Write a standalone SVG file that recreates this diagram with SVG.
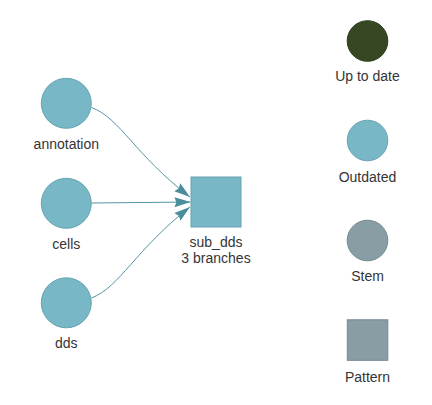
<svg xmlns="http://www.w3.org/2000/svg" width="432" height="405" viewBox="0 0 432 405">
<style>
text{font-family:"Liberation Sans",Arial,sans-serif;font-size:14px;fill:#343434;text-anchor:middle}
.out{fill:#78B7C5;stroke:#66A3B1;stroke-width:1}
.utd{fill:#354823;stroke:#2B3B1C;stroke-width:1}
.stem{fill:#899DA4;stroke:#728890;stroke-width:1}
.edge{fill:none;stroke:#5595A3;stroke-width:1}
</style>
<defs>
<marker id="arr" markerUnits="userSpaceOnUse" viewBox="-17 -6 18 12" refX="0" refY="0" markerWidth="18" markerHeight="12" orient="auto">
<path d="M0,0 L-16,-5 L-14.2,0 L-16,5 Z" fill="#4B8D9B"/>
</marker>
</defs>
<rect width="432" height="405" fill="#fff"/>
<g id="connectors">
<path class="edge" d="M91.5,107.5 C120,118 135,155 190,197" marker-end="url(#arr)"/>
<path class="edge" d="M91.5,203 L190.5,202" marker-end="url(#arr)"/>
<path class="edge" d="M91.5,298 C120,287 135,250 190,207" marker-end="url(#arr)"/>
</g>
<g id="annotation">
<circle class="out" cx="66.3" cy="103.3" r="25"/>
<text x="66.3" y="148.5">annotation</text>
</g>
<g id="cells">
<circle class="out" cx="66.3" cy="203.3" r="25"/>
<text x="66.3" y="248.5">cells</text>
</g>
<g id="dds">
<circle class="out" cx="66.3" cy="302.8" r="25"/>
<text x="66.3" y="348">dds</text>
</g>
<g id="sub_dds">
<rect class="out" x="191" y="177" width="50" height="50"/>
<text x="216" y="247">sub_dds</text>
<text x="216" y="262.5">3 branches</text>
</g>
<g id="legend-uptodate">
<circle class="utd" cx="367.5" cy="41" r="20.3"/>
<text x="367.5" y="81">Up to date</text>
</g>
<g id="legend-outdated">
<circle class="out" cx="367.5" cy="140.5" r="20.3"/>
<text x="367.5" y="181.5">Outdated</text>
</g>
<g id="legend-stem">
<circle class="stem" cx="367.5" cy="240.5" r="20.3"/>
<text x="367.5" y="281">Stem</text>
</g>
<g id="legend-pattern">
<rect class="stem" x="347.3" y="319.8" width="40.5" height="40.5"/>
<text x="367.5" y="381.5">Pattern</text>
</g>
</svg>
